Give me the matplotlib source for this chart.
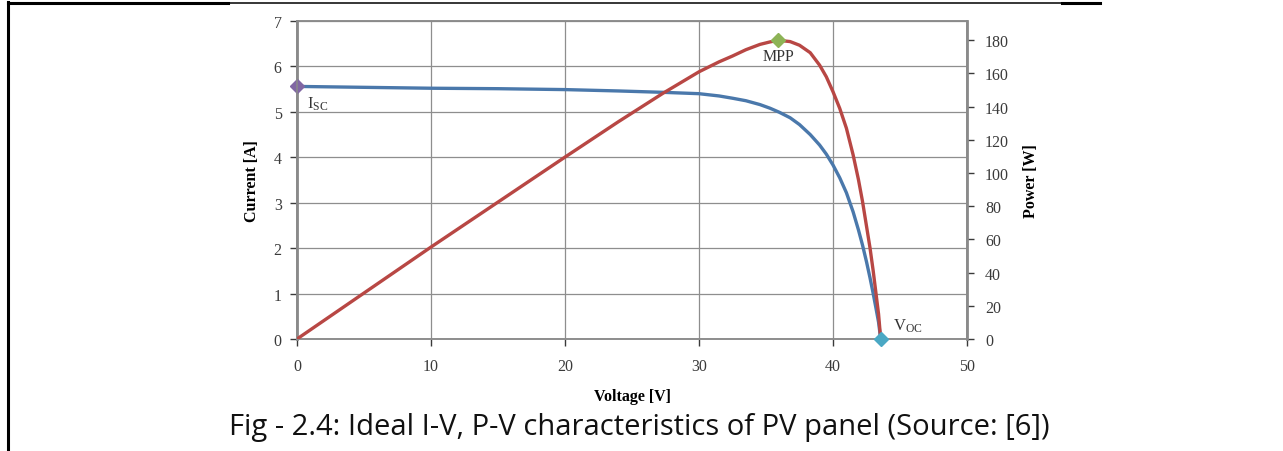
import matplotlib
matplotlib.use("Agg")
import matplotlib.pyplot as plt
from matplotlib.lines import Line2D

plt.rcParams['mathtext.fontset'] = 'custom'
plt.rcParams['mathtext.rm'] = 'Liberation Serif'
plt.rcParams['mathtext.it'] = 'Liberation Serif:italic'

# ---- data ----
v_iv = [0, 5, 10, 15, 20, 24, 27.3, 30, 31.5, 32.5, 33.5, 34.55, 35.3, 36.0, 36.8, 37.5,
        38.3, 39.0, 39.5, 40.0, 40.5, 41.0, 41.5, 41.9, 42.2, 42.5, 42.76, 43.0, 43.2,
        43.4, 43.56]
i_iv = [5.56, 5.54, 5.52, 5.51, 5.49, 5.46, 5.43, 5.40, 5.35, 5.30, 5.245, 5.16, 5.08, 4.99,
        4.87, 4.72, 4.50, 4.27, 4.07, 3.83, 3.55, 3.22, 2.80, 2.40, 2.07, 1.70, 1.35, 1.00,
        0.69, 0.37, 0.0]

v_pv = [0, 10, 20, 24, 27.3, 30, 31.5, 32.5, 33.5, 34.55, 35.3, 35.9, 36.8, 37.5, 38.3,
        39.0, 39.5, 40.0, 40.5, 41.0, 41.5, 41.9, 42.2, 42.5, 42.76, 43.0, 43.2, 43.4, 43.56]
p_pv = [0, 55.4, 109.6, 131, 148, 161, 167, 170.5, 174.3, 177.5, 179.0, 180, 179.2, 177,
        172.5, 165, 158, 149, 139, 127, 111, 96, 83, 68, 55, 41, 28, 15, 0]

isc_point = (0, 5.56)
mpp_point = (35.9, 180)
voc_point = (43.56, 0)

x_ticks = [0, 10, 20, 30, 40, 50]
i_ticks = [0, 1, 2, 3, 4, 5, 6, 7]
p_ticks = [0, 20, 40, 60, 80, 100, 120, 140, 160, 180]

caption = "Fig - 2.4: Ideal I-V, P-V characteristics of PV panel (Source: [6])"

# ---- figure ----
W, H = 1283, 452
fig = plt.figure(figsize=(W / 100, H / 100), dpi=100)
ax = fig.add_axes([297 / W, 1 - 340 / H, (967 - 297) / W, (340 - 22) / H])
ax2 = ax.twinx()

blue = '#4a78ab'
red = '#b84744'
grid_c = '#8e8e8e'
spine_c = '#8a8a8a'
serif = 'Liberation Serif'

ax.set_xlim(0, 50)
ax.set_ylim(0, 7)
ax2.set_ylim(0, 191.6)
ax.set_xticks(x_ticks)
ax.set_yticks(i_ticks)
ax2.set_yticks(p_ticks)

ax.grid(True, color=grid_c, linewidth=0.9)
ax.set_axisbelow(True)
for a in (ax, ax2):
    for s in a.spines.values():
        s.set_color(spine_c)
        s.set_linewidth(1.1)
    a.tick_params(colors='#3a3a3a', length=5, width=1.0, labelsize=11.5, direction='out')
    for lbl in a.get_xticklabels() + a.get_yticklabels():
        lbl.set_fontfamily(serif)
for t in ax.xaxis.get_major_ticks() + ax.yaxis.get_major_ticks() + ax2.yaxis.get_major_ticks():
    t.tick1line.set_color(spine_c)
    t.tick2line.set_color(spine_c)
ax.spines['left'].set_linewidth(2.0)
ax2.spines['right'].set_linewidth(2.0)
ax.tick_params(axis='x', pad=9)
ax.tick_params(axis='y', pad=6)
ax2.tick_params(axis='y', pad=8)

ax.plot(v_iv, i_iv, color=blue, linewidth=2.4, solid_capstyle='round',
        solid_joinstyle='round', zorder=3)
ax2.plot(v_pv, p_pv, color=red, linewidth=2.4, solid_capstyle='round',
         solid_joinstyle='round', zorder=3)

ax.plot(*isc_point, marker='D', markersize=7, color='#8066a3', clip_on=False, zorder=5)
ax2.plot(*mpp_point, marker='D', markersize=7, color='#8db356', clip_on=False, zorder=5)
ax2.plot(*voc_point, marker='D', markersize=7, color='#4aa8c4', clip_on=False, zorder=5)

ax.annotate(r'I$_{\mathrm{SC}}$', xy=isc_point, xytext=(7, -15), textcoords='offset points',
            fontsize=12, family=serif, color='#333333')
ax2.annotate('MPP', xy=mpp_point, xytext=(0, -14), textcoords='offset points',
             fontsize=11.5, family=serif, color='#333333', ha='center')
ax2.annotate(r'V$_{\mathrm{OC}}$', xy=voc_point, xytext=(9, 7), textcoords='offset points',
             fontsize=12, family=serif, color='#333333')

ax.set_xlabel('Voltage [V]', fontsize=11.5, family=serif, fontweight='bold', labelpad=10)
ax.set_ylabel('Current [A]', fontsize=11.5, family=serif, fontweight='bold', labelpad=10)
ax2.set_ylabel('Power [W]', fontsize=11.5, family=serif, fontweight='bold', labelpad=10, rotation=90)

fig.text(639 / W, 1 - 428 / H, caption, ha='center', va='center',
         fontsize=21, family='Open Sans', color='#111111')

# page frame lines
fig.add_artist(Line2D([8 / W, 228 / W], [1 - 3.5 / H, 1 - 3.5 / H], color='black', linewidth=2.2))
fig.add_artist(Line2D([228 / W, 1062 / W], [1 - 3.5 / H, 1 - 3.5 / H], color='black', linewidth=1.1))
fig.add_artist(Line2D([1062 / W, 1100 / W], [1 - 3.5 / H, 1 - 3.5 / H], color='black', linewidth=2.2))
fig.add_artist(Line2D([8 / W, 8 / W], [0, 1 - 3 / H], color='black', linewidth=2.2))

fig.savefig('out.png', dpi=100, facecolor='white')
